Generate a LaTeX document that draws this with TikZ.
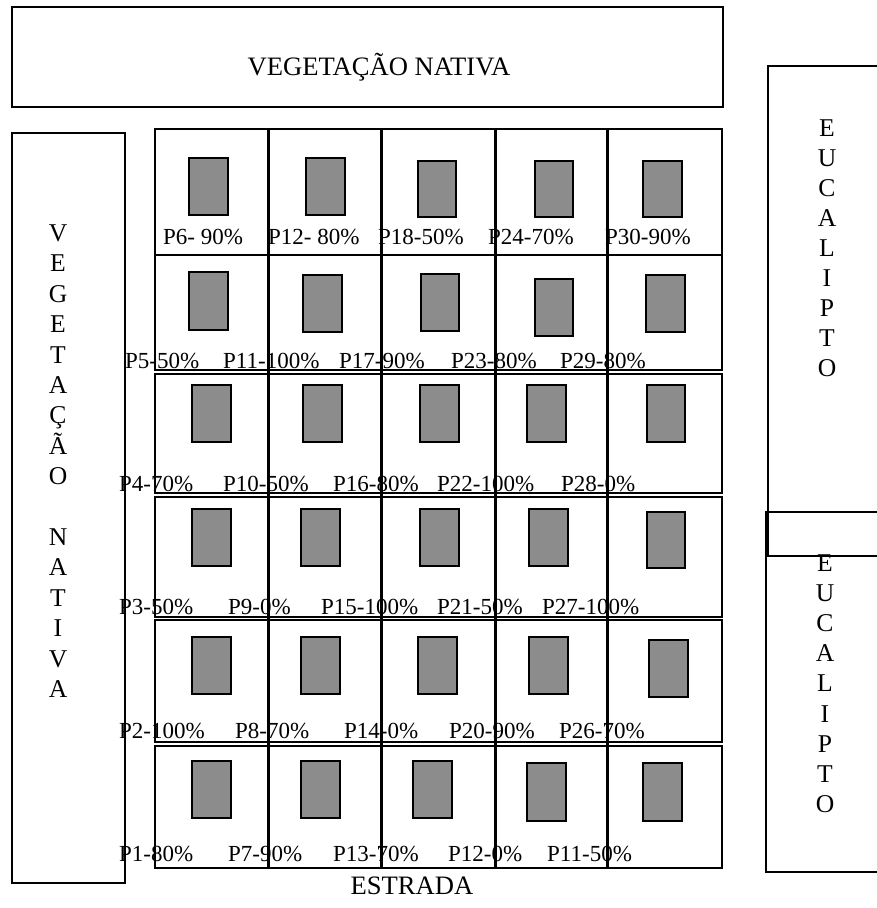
\documentclass[tikz,border=0pt]{standalone}
\usepackage{fontspec}
\setmainfont{Liberation Serif}
\definecolor{plotgray}{RGB}{140,140,140}
\begin{document}
\begin{tikzpicture}[x=1pt,y=-1pt,
  box/.style={draw=black,line width=2pt},
  plotbox/.style={draw=black,line width=2.2pt,fill=plotgray},
  lab/.style={anchor=base west,inner sep=0pt,font=\fontsize{23}{27}\selectfont},
  big/.style={inner sep=0pt,font=\fontsize{25.6}{30.4}\selectfont},
  title/.style={inner sep=0pt,font=\fontsize{26.6}{31}\selectfont},
  gridrow/.style={draw=black,line width=2pt},
  sepline/.style={draw=black,line width=3pt}]
\useasboundingbox (0,0) rectangle (877,908);
\clip (0,0) rectangle (877,908);
\fill[white] (0,0) rectangle (877,908);

% top native vegetation
\draw[box] (12,7) rectangle (723,107);
\node[title,anchor=base] (vegtop) at (379,75) {VEGETAÇÃO NATIVA};

% left native vegetation
\draw[box] (11.7,132.7) rectangle (125,883);
\node[big,align=center,anchor=north] (vegleft) at (58,224.6)
  {V\\E\\G\\E\\T\\A\\Ç\\Ã\\O\\[30.4pt]N\\A\\T\\I\\V\\A};

% eucalyptus boxes
\draw[box] (768,66) rectangle (900,556);
\node[big,align=center,anchor=north,font=\fontsize{25.6}{30}\selectfont] (euc1) at (827,119.6)
  {E\\U\\C\\A\\L\\I\\P\\T\\O};
\draw[box] (766,512) rectangle (900,872);
\node[big,align=center,anchor=north,font=\fontsize{25.6}{30.1}\selectfont] (euc2) at (825,554.6)
  {E\\U\\C\\A\\L\\I\\P\\T\\O};

% grid rows
\foreach \t/\b in {129/255,255/369.5,373.5/493,496.5/616.5,620/742,745.5/868}
  \draw[gridrow] (155,\t) rectangle (722,\b);
\foreach \x in {268,381.5,495,607.5}
  \draw[sepline] (\x,129) -- (\x,868);

% plots
\foreach \a/\b/\c/\d in {
  189/158/228/215, 306/158/345/215, 418/161/456/217, 535/161/573/217, 643/161/682/217,
  189/272/228/330, 303/275/342/332, 421/274/459/331, 535/279/573/336, 646/275/685/332,
  192/385/231/442, 303/385/342/442, 420/385/459/442, 527/385/566/442, 647/385/685/442,
  192/509/231/566, 301/509/340/566, 420/509/459/566, 529/509/568/566, 647/512/685/568,
  192/637/231/694, 301/637/340/694, 418/637/457/694, 529/637/568/694, 649/640/688/697,
  192/761/231/818, 301/761/340/818, 413/761/452/818, 527/763/566/821, 643/763/682/821}
  \draw[plotbox] (\a,\b) rectangle (\c,\d);

% labels row 1
\node[lab] (p6) at (163,244) {P6- 90\%};
\node[lab] (p12) at (268,244) {P12- 80\%};
\node[lab] (p18) at (378,244) {P18-50\%};
\node[lab] (p24) at (488,244) {P24-70\%};
\node[lab] (p30) at (605,244) {P30-90\%};
% row 2
\node[lab] (p5) at (125,368) {P5-50\%};
\node[lab] (p11) at (223,368) {P11-100\%};
\node[lab] (p17) at (339,368) {P17-90\%};
\node[lab] (p23) at (451,368) {P23-80\%};
\node[lab] (p29) at (560,368) {P29-80\%};
% row 3
\node[lab] (p4) at (119,491) {P4-70\%};
\node[lab] (p10) at (223,491) {P10-50\%};
\node[lab] (p16) at (333,491) {P16-80\%};
\node[lab] (p22) at (437,491) {P22-100\%};
\node[lab] (p28) at (561,491) {P28-0\%};
% row 4
\node[lab] (p3) at (119,614) {P3-50\%};
\node[lab] (p9) at (228,614) {P9-0\%};
\node[lab] (p15) at (321,614) {P15-100\%};
\node[lab] (p21) at (437,614) {P21-50\%};
\node[lab] (p27) at (542,614) {P27-100\%};
% row 5
\node[lab] (p2) at (119,738) {P2-100\%};
\node[lab] (p8) at (235,738) {P8-70\%};
\node[lab] (p14) at (344,738) {P14-0\%};
\node[lab] (p20) at (449,738) {P20-90\%};
\node[lab] (p26) at (559,738) {P26-70\%};
% row 6
\node[lab] (p1) at (119,861) {P1-80\%};
\node[lab] (p7) at (228,861) {P7-90\%};
\node[lab] (p13) at (333,861) {P13-70\%};
\node[lab] (p12b) at (448,861) {P12-0\%};
\node[lab] (p11b) at (547,861) {P11-50\%};

% road
\node[title,anchor=base] (estrada) at (412,894) {ESTRADA};
\end{tikzpicture}
\end{document}
